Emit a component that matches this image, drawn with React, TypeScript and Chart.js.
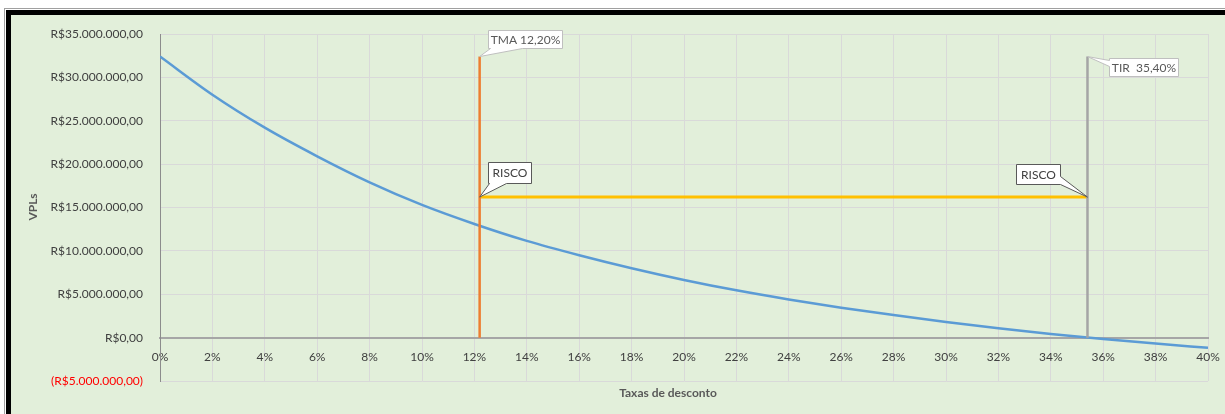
import React, { useEffect, useRef } from "react";
import { Chart, registerables } from "chart.js";

Chart.register(...registerables);

// ---- data (values in millions of R$) ----
const rates = [0, 2, 4, 6, 8, 10, 12, 14, 16, 18, 20, 22, 24, 26, 28, 30, 32, 34, 36, 38, 40];
const npvMillions = [32.4, 28.0, 24.2, 20.9, 17.9, 15.3, 13.1, 11.15, 9.5, 8.0, 6.65, 5.45, 4.4, 3.45, 2.6, 1.8, 1.07, 0.43, -0.15, -0.68, -1.18];
const tmaRate = 12.2;
const tirRate = 35.4;
const markerTop = 32.4;
const riskLevel = 16.2;
const yMin = -5;
const yMax = 35;
const yStep = 5;
const xMin = 0;
const xMax = 40;
const xStep = 2;
const calloutTexts = ["TMA 12,20%", "TIR  35,40%", "RISCO", "RISCO"];
const calloutAnchorsX = [tmaRate, tirRate, tmaRate, tirRate];
const calloutAnchorsY = [markerTop, markerTop, riskLevel, riskLevel];
const yTitle = "VPLs";
const xTitle = "Taxas de desconto";

// ---- styles ----
const FONT = "Lato, 'Open Sans', sans-serif";
const calloutStyle = [
  { dx: 8, dy: -27, w: 74, h: 18, side: "bottom", a: 2, b: 34, stroke: "#BFBFBF", color: "#595959" },
  { dx: 22, dy: 1, w: 69, h: 18, side: "left", a: 2, b: 8, stroke: "#BFBFBF", color: "#595959" },
  { dx: 8, dy: -35, w: 43, h: 21, side: "bottom", a: 1, b: 18, stroke: "#595959", color: "#404040" },
  { dx: -71, dy: -33, w: 44, h: 20, side: "right", a: 12, b: 20, stroke: "#595959", color: "#404040" },
];

function brl(m: number): string {
  const v = Math.round(Math.abs(m) * 1e6);
  const s = String(v).replace(/\B(?=(\d{3})+(?!\d))/g, ".");
  const t = "R$" + s + ",00";
  return m < 0 ? "(" + t + ")" : t;
}

function calloutPath(ctx: CanvasRenderingContext2D, x0: number, y0: number, w: number, h: number, side: string, a: number, b: number, ax: number, ay: number) {
  const x1 = x0 + w;
  const y1 = y0 + h;
  ctx.beginPath();
  ctx.moveTo(x0, y0);
  if (side === "top") { ctx.lineTo(x0 + a, y0); ctx.lineTo(ax, ay); ctx.lineTo(x0 + b, y0); }
  ctx.lineTo(x1, y0);
  if (side === "right") { ctx.lineTo(x1, y0 + a); ctx.lineTo(ax, ay); ctx.lineTo(x1, y0 + b); }
  ctx.lineTo(x1, y1);
  if (side === "bottom") { ctx.lineTo(x0 + b, y1); ctx.lineTo(ax, ay); ctx.lineTo(x0 + a, y1); }
  ctx.lineTo(x0, y1);
  if (side === "left") { ctx.lineTo(x0, y0 + b); ctx.lineTo(ax, ay); ctx.lineTo(x0, y0 + a); }
  ctx.closePath();
}

const annotationsPlugin = {
  id: "callouts",
  afterDatasetsDraw(chart: any) {
    const ctx: CanvasRenderingContext2D = chart.ctx;
    const xs = chart.scales.x;
    const ys = chart.scales.y;
    ctx.save();
    calloutTexts.forEach((text, i) => {
      const st = calloutStyle[i];
      const ax = xs.getPixelForValue(calloutAnchorsX[i]);
      const ay = ys.getPixelForValue(calloutAnchorsY[i]);
      const x0 = Math.round(ax + st.dx) + 0.5;
      const y0 = Math.round(ay + st.dy) + 0.5;
      calloutPath(ctx, x0, y0, st.w, st.h, st.side, st.a, st.b, ax, ay);
      ctx.fillStyle = "#FFFFFF";
      ctx.fill();
      ctx.lineWidth = 1;
      ctx.strokeStyle = st.stroke;
      ctx.stroke();
      ctx.fillStyle = st.color;
      ctx.font = "12px " + FONT;
      ctx.textAlign = "center";
      ctx.textBaseline = "middle";
      ctx.fillText(text, x0 + st.w / 2, y0 + st.h / 2 + 0.5);
    });
    ctx.restore();
  },
  afterDraw(chart: any) {
    const ctx: CanvasRenderingContext2D = chart.ctx;
    ctx.save();
    ctx.fillStyle = "#595959";
    ctx.font = "bold 12px " + FONT;
    ctx.textAlign = "center";
    ctx.textBaseline = "middle";
    ctx.fillText(xTitle, 668, 393);
    ctx.translate(33, 207);
    ctx.rotate(-Math.PI / 2);
    ctx.fillText(yTitle, 0, 0);
    ctx.restore();
  },
};

export default function App() {
  const ref = useRef<HTMLCanvasElement>(null);
  useEffect(() => {
    const lineOpts = { pointRadius: 0, fill: false, borderCapStyle: "butt" };
    const chart = new Chart(ref.current as HTMLCanvasElement, {
      type: "line",
      data: {
        datasets: [
          { label: "TMA", data: [{ x: tmaRate, y: 0 }, { x: tmaRate, y: markerTop }], borderColor: "#ED7D31", borderWidth: 2.5, ...lineOpts } as any,
          { label: "TIR", data: [{ x: tirRate, y: 0 }, { x: tirRate, y: markerTop }], borderColor: "#A5A5A5", borderWidth: 2.5, ...lineOpts } as any,
          { label: "RISCO", data: [{ x: tmaRate, y: riskLevel }, { x: tirRate, y: riskLevel }], borderColor: "#FFC000", borderWidth: 3, ...lineOpts } as any,
          {
            label: "VPL",
            data: rates.map((r, i) => ({ x: r, y: npvMillions[i] })),
            borderColor: "#5B9BD5",
            borderWidth: 2.5,
            cubicInterpolationMode: "monotone",
            ...lineOpts,
          } as any,
        ],
      },
      options: {
        responsive: true,
        maintainAspectRatio: false,
        animation: false,
        layout: { padding: { left: 0, right: 17, top: 34, bottom: 0 } },
        plugins: { legend: { display: false }, tooltip: { enabled: false } },
        scales: {
          x: {
            type: "linear",
            min: xMin,
            max: xMax,
            position: "bottom",
            ticks: { display: false, stepSize: xStep },
            grid: { color: "#D9D9D9", drawTicks: false, lineWidth: 1 },
            border: { display: false },
            afterFit: (s: any) => { s.height = 33; s.paddingLeft = 0; s.paddingRight = 0; },
          },
          x0: {
            axis: "x",
            type: "linear",
            min: xMin,
            max: xMax,
            position: { y: 0 },
            ticks: {
              stepSize: xStep,
              autoSkip: false,
              maxRotation: 0,
              padding: 12,
              color: "#404040",
              font: { family: FONT, size: 12 },
              callback: (v: any) => v + "%",
            },
            grid: { display: false, drawTicks: false },
            border: { display: true, color: "#A6A6A6", width: 2 },
            afterFit: (s: any) => { s.paddingLeft = 0; s.paddingRight = 0; },
          },
          y: {
            type: "linear",
            min: yMin,
            max: yMax,
            ticks: {
              stepSize: yStep,
              padding: 17,
              font: { family: FONT, size: 12 },
              color: (c: any) => (c.tick && c.tick.value < 0 ? "#FF0000" : "#404040"),
              callback: (v: any) => brl(Number(v)),
            },
            grid: { color: "#D9D9D9", drawTicks: false },
            border: { display: true, color: "#8C8C8C", width: 1 },
            afterFit: (s: any) => { s.width = 160; s.paddingTop = 0; s.paddingBottom = 0; },
          },
        } as any,
      },
      plugins: [annotationsPlugin],
    } as any);
    return () => chart.destroy();
  }, []);

  return (
    <div style={{ position: "fixed", left: 0, top: 0, width: 1225, height: 414, background: "#FFFFFF", overflow: "hidden" }}>
      <div style={{ position: "absolute", left: 4, top: 8, width: 1240, height: 440, border: "1px solid #A0A0A0", boxSizing: "border-box" }} />
      <div style={{ position: "absolute", left: 6, top: 10, width: 1240, height: 440, border: "5px solid #000000", background: "#E2EFDA", boxSizing: "border-box" }} />
      <div style={{ position: "absolute", left: 0, top: 0, width: 1225, height: 414 }}>
        <canvas ref={ref} />
      </div>
    </div>
  );
}
